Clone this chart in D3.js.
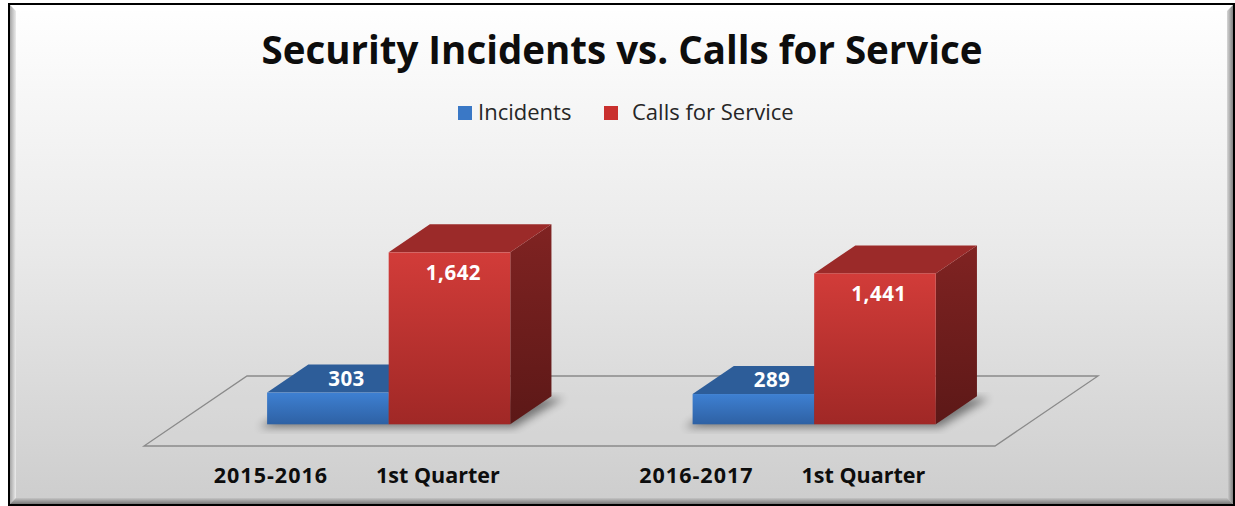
<!DOCTYPE html>
<html>
<head>
<meta charset="utf-8">
<script src="https://cdn.jsdelivr.net/npm/d3@7"></script>
<style>
  body { margin: 0; background: #fff; }
  svg { display: block; font-family: "Open Sans", Lato, sans-serif; }
</style>
</head>
<body>
<div id="chart"></div>
<script>
// data
const periods = ["2015-2016", "2016-2017"];
const quarters = ["1st Quarter", "1st Quarter"];
const seriesNames = ["Incidents", "Calls for Service"];
const incidents = [303, 289];
const calls = [1642, 1441];
const chartTitle = "Security Incidents vs. Calls for Service";

const W = 1235, H = 506;

const svg = d3.select("#chart")
    .append("svg")
    .attr("width", W)
    .attr("height", H);

const defs = svg.append("defs");

function vGrad(id, stops, horizontal) {
    const g = defs.append("linearGradient")
        .attr("id", id)
        .attr("x1", 0).attr("y1", 0)
        .attr("x2", horizontal ? 1 : 0).attr("y2", horizontal ? 0 : 1);
    stops.forEach(([off, col]) => g.append("stop").attr("offset", off).attr("stop-color", col));
}

vGrad("bg", [[0, "#ffffff"], [0.5, "#e9e9e9"], [1, "#cdcdcd"]]);
vGrad("bevelLeft", [[0, "#9a9a9a"], [1, "#ececec"]], true);
vGrad("bevelRight", [[0, "#d6d6d6"], [1, "#737373"]], true);
vGrad("bevelBottom", [[0, "#c4c4c4"], [1, "#6a6a6a"]]);
vGrad("blueFront", [[0, "#3e80d2"], [1, "#2e61a4"]]);
vGrad("redFront", [[0, "#d23c39"], [1, "#a02826"]]);
vGrad("redSide", [[0, "#802322"], [1, "#5c1817"]]);
vGrad("blueSide", [[0, "#2a5890"], [1, "#1f4370"]]);

defs.append("filter").attr("id", "soft")
    .attr("x", "-20%").attr("y", "-20%").attr("width", "140%").attr("height", "140%")
    .append("feGaussianBlur").attr("stdDeviation", 4);

// frame with bevel
const fx0 = 9, fy0 = 4, fx1 = 1234, fy1 = 505, bev = 7;
svg.append("rect")
    .attr("x", fx0).attr("y", fy0)
    .attr("width", fx1 - fx0).attr("height", fy1 - fy0)
    .attr("fill", "url(#bg)");

const bevels = [
    { pts: [[fx0, fy0], [fx1, fy0], [fx1 - bev, fy0 + bev], [fx0 + bev, fy0 + bev]], fill: "#ffffff" },
    { pts: [[fx0, fy0], [fx0 + bev, fy0 + bev], [fx0 + bev, fy1 - bev], [fx0, fy1]], fill: "url(#bevelLeft)" },
    { pts: [[fx1, fy0], [fx1, fy1], [fx1 - bev, fy1 - bev], [fx1 - bev, fy0 + bev]], fill: "url(#bevelRight)" },
    { pts: [[fx0, fy1], [fx0 + bev, fy1 - bev], [fx1 - bev, fy1 - bev], [fx1, fy1]], fill: "url(#bevelBottom)" }
];
svg.selectAll(".bevel")
    .data(bevels)
    .enter().append("polygon")
    .attr("class", "bevel")
    .attr("points", d => d.pts.map(p => p.join(",")).join(" "))
    .attr("fill", d => d.fill);

svg.append("rect")
    .attr("x", fx0).attr("y", fy0)
    .attr("width", fx1 - fx0).attr("height", fy1 - fy0)
    .attr("fill", "none")
    .attr("stroke", "#000")
    .attr("stroke-width", 2);

// title
svg.append("text")
    .attr("x", 622)
    .attr("y", 64)
    .attr("text-anchor", "middle")
    .attr("font-size", "38.5px")
    .attr("font-weight", "bold")
    .attr("fill", "#0d0d0d")
    .text(chartTitle);

// legend
const legendColors = ["#3a78c6", "#c9302e"];
const legendX = [458, 604];
const legendTextX = [478, 632];
seriesNames.forEach((name, i) => {
    svg.append("rect")
        .attr("x", legendX[i])
        .attr("y", 106)
        .attr("width", 14)
        .attr("height", 14)
        .attr("fill", legendColors[i]);
    svg.append("text")
        .attr("x", legendTextX[i])
        .attr("y", 120)
        .attr("font-size", "22px")
        .attr("fill", "#262626")
        .text(name);
});

// 3d floor and scales
const floorY = 446, floorX0 = 144, floorX1 = 995;
const depth = { dx: 103, dy: -70 };
const barT0 = 0.31, barT1 = 0.71;

const x = d3.scaleBand()
    .domain(periods)
    .range([floorX0, floorX1]);

const xSub = d3.scaleBand()
    .domain(seriesNames)
    .range([0, x.bandwidth()])
    .paddingInner(0)
    .paddingOuter(0.75);

const y = d3.scaleLinear()
    .domain([0, 1800])
    .range([0, 188.5]);

const floorPts = [
    [floorX0, floorY], [floorX1, floorY],
    [floorX1 + depth.dx, floorY + depth.dy], [floorX0 + depth.dx, floorY + depth.dy]
];
svg.append("polygon")
    .attr("points", floorPts.map(p => p.join(",")).join(" "))
    .attr("fill", "#d9d9d9")
    .attr("fill-opacity", 0.25)
    .attr("stroke", "#8a8a8a")
    .attr("stroke-width", 1.3);

// bars
const barData = [];
periods.forEach((p, i) => {
    barData.push({ period: p, series: seriesNames[0], value: incidents[i] });
    barData.push({ period: p, series: seriesNames[1], value: calls[i] });
});

const bx = d => x(d.period) + xSub(d.series) + barT0 * depth.dx;
const by = floorY + barT0 * depth.dy;
const ddx = (barT1 - barT0) * depth.dx, ddy = (barT1 - barT0) * depth.dy;
const bw = xSub.bandwidth();

// soft shadow around the footprint of each bar pair
periods.forEach(p => {
    const left = x(p) + xSub(seriesNames[0]) + barT0 * depth.dx;
    const right = left + 2 * bw;
    svg.append("polygon")
        .attr("points", [
            [left - 8, by + 3], [right + 4, by + 3],
            [right + ddx + 12, by + ddy + 2], [left + ddx, by + ddy + 2]
        ].map(q => q.join(",")).join(" "))
        .attr("fill", "#000")
        .attr("opacity", 0.45)
        .attr("filter", "url(#soft)");
});

const faces = {
    "Incidents": { front: "url(#blueFront)", top: "#2d5d99", side: "url(#blueSide)" },
    "Calls for Service": { front: "url(#redFront)", top: "#9b2a29", side: "url(#redSide)" }
};

const bars = svg.selectAll(".bar")
    .data(barData)
    .enter().append("g")
    .attr("class", "bar");

bars.append("polygon")
    .attr("points", d => {
        const l = bx(d), t = by - y(d.value);
        return [[l + bw, t], [l + bw + ddx, t + ddy], [l + bw + ddx, by + ddy], [l + bw, by]]
            .map(q => q.join(",")).join(" ");
    })
    .attr("fill", d => faces[d.series].side);

bars.append("polygon")
    .attr("points", d => {
        const l = bx(d), t = by - y(d.value);
        return [[l, t], [l + bw, t], [l + bw + ddx, t + ddy], [l + ddx, t + ddy]]
            .map(q => q.join(",")).join(" ");
    })
    .attr("fill", d => faces[d.series].top);

bars.append("rect")
    .attr("x", d => bx(d))
    .attr("y", d => by - y(d.value))
    .attr("width", bw)
    .attr("height", d => y(d.value))
    .attr("fill", d => faces[d.series].front);

// value labels
bars.append("text")
    .attr("x", d => d.series === "Incidents" ? bx(d) + bw / 2 + ddx / 2 - 2 : bx(d) + bw / 2 + 4)
    .attr("y", d => d.series === "Incidents" ? by - y(d.value) + ddy / 2 + 7 : by - y(d.value) + 28)
    .attr("text-anchor", "middle")
    .attr("font-size", "20.5px")
    .attr("font-weight", "bold")
    .attr("letter-spacing", "0.5px")
    .attr("fill", "#fff")
    .text(d => d3.format(",")(d.value));

// category labels
const catLabels = svg.selectAll(".cat")
    .data(periods)
    .enter().append("text")
    .attr("class", "cat")
    .attr("x", d => x(d) + x.bandwidth() / 2)
    .attr("y", 483)
    .attr("text-anchor", "middle")
    .attr("font-size", "21.5px")
    .attr("font-weight", "bold")
    .attr("fill", "#0d0d0d");

catLabels.append("tspan").attr("letter-spacing", "1px").text(d => d);
catLabels.append("tspan").attr("dx", 48).attr("letter-spacing", "0px").text((d, i) => quarters[i]);
</script>
</body>
</html>
